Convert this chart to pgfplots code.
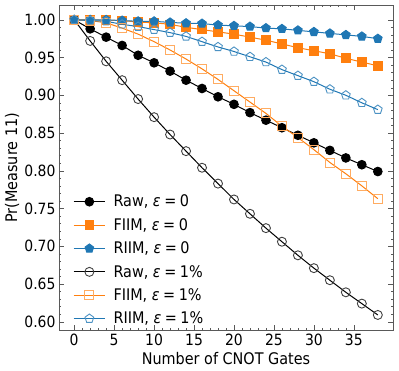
\documentclass[border=0pt]{standalone}
\usepackage{fontspec}
\setmainfont{DejaVu Sans}[FakeStretch=0.9]
\usepackage{pgfplots}
\pgfplotsset{compat=1.18}

\definecolor{tabblue}{HTML}{1F77B4}
\definecolor{taborange}{HTML}{FF7F0E}

% gates, probability of measuring 11
\pgfplotstableread{
n    raw0   fiim0  riim0  raw1   fiim1  riim1
0    1.000  1.000  1.000  1.000  1.000  1.000
2    0.988  1.000  1.000  0.972  0.999  0.999
4    0.977  0.9995 0.9999 0.945  0.996  0.998
6    0.966  0.999  0.999  0.920  0.989  0.994
8    0.953  0.997  0.998  0.895  0.981  0.991
10   0.943  0.996  0.998  0.871  0.971  0.987
12   0.932  0.994  0.9965 0.848  0.960  0.983
14   0.920  0.990  0.9955 0.826  0.948  0.978
16   0.909  0.987  0.995  0.804  0.935  0.971
18   0.898  0.984  0.993  0.783  0.921  0.964
20   0.888  0.981  0.992  0.762  0.906  0.958
22   0.877  0.977  0.991  0.743  0.891  0.951
24   0.867  0.973  0.989  0.724  0.876  0.944
26   0.857  0.968  0.988  0.706  0.859  0.934
28   0.847  0.963  0.986  0.688  0.844  0.926
30   0.837  0.959  0.984  0.671  0.828  0.918
32   0.827  0.955  0.982  0.655  0.811  0.908
34   0.817  0.949  0.980  0.639  0.796  0.900
36   0.808  0.944  0.978  0.624  0.780  0.890
38   0.799  0.939  0.975  0.609  0.763  0.881
}\gates

\newcommand{\eps}[1]{{\itshape ε}\hspace{0.22em}=\hspace{0.22em}#1}

\begin{document}
\begin{tikzpicture}
\useasboundingbox (-59pt,-40.5pt) rectangle (340pt,330.5pt);
\begin{axis}[
    scale only axis,
    width=334pt, height=325.5pt,
    xmin=-1.9, xmax=39.9,
    ymin=0.5884, ymax=1.0196,
    xtick={0,5,...,35},
    ytick={0.60,0.65,...,1.001},
    minor x tick num=4,
    minor y tick num=4,
    tick align=inside,
    xtick pos=both, ytick pos=both,
    major tick length=5pt, minor tick length=2.5pt,
    axis line style={black!65},
    every tick/.style={black!65},
    yticklabel style={/pgf/number format/fixed, /pgf/number format/precision=2,
        /pgf/number format/fixed zerofill},
    /pgf/number format/assume math mode=true,
    tick label style={font=\fontsize{15.5}{18}\selectfont},
    label style={font=\fontsize{16}{19}\selectfont},
    xlabel={Number of CNOT Gates},
    ylabel={Pr(Measure 11)},
    xlabel style={at={(axis description cs:0.5,-0.0876)}, anchor=center},
    ylabel style={at={(axis description cs:-0.1407,0.5)}, anchor=center},
    every axis plot/.append style={line width=1pt},
    legend image code/.code={
        \draw[mark repeat=2, mark phase=2, #1] plot coordinates {(0cm,0cm) (0.55cm,0cm) (1.1cm,0cm)};
    },
    legend cell align=left,
    legend style={draw=none, fill=none, at={(0.033,0.429)}, anchor=north west,
        font=\fontsize{16}{19}\selectfont, row sep=6pt,
        /tikz/every odd column/.append style={column sep=6pt}},
]
\addplot[black, mark=*, mark size=4.3pt] table[x=n, y=raw0] {\gates};
\addlegendentry{Raw, \eps{0}}
\addplot[taborange, mark=square*, mark size=4.3pt] table[x=n, y=fiim0] {\gates};
\addlegendentry{FIIM, \eps{0}}
\addplot[tabblue, mark=pentagon*, mark size=4.5pt] table[x=n, y=riim0] {\gates};
\addlegendentry{RIIM, \eps{0}}
\addplot[black, mark=o, mark size=4.5pt, mark options={draw=black!75, line width=0.9pt}] table[x=n, y=raw1] {\gates};
\addlegendentry{Raw, \eps{1\%}}
\addplot[taborange, mark=square, mark size=4.5pt, mark options={draw=taborange!65, line width=0.9pt}] table[x=n, y=fiim1] {\gates};
\addlegendentry{FIIM, \eps{1\%}}
\addplot[tabblue, mark=pentagon, mark size=4.6pt, mark options={draw=tabblue!80, line width=0.9pt}] table[x=n, y=riim1] {\gates};
\addlegendentry{RIIM, \eps{1\%}}
\end{axis}
\end{tikzpicture}
\end{document}
